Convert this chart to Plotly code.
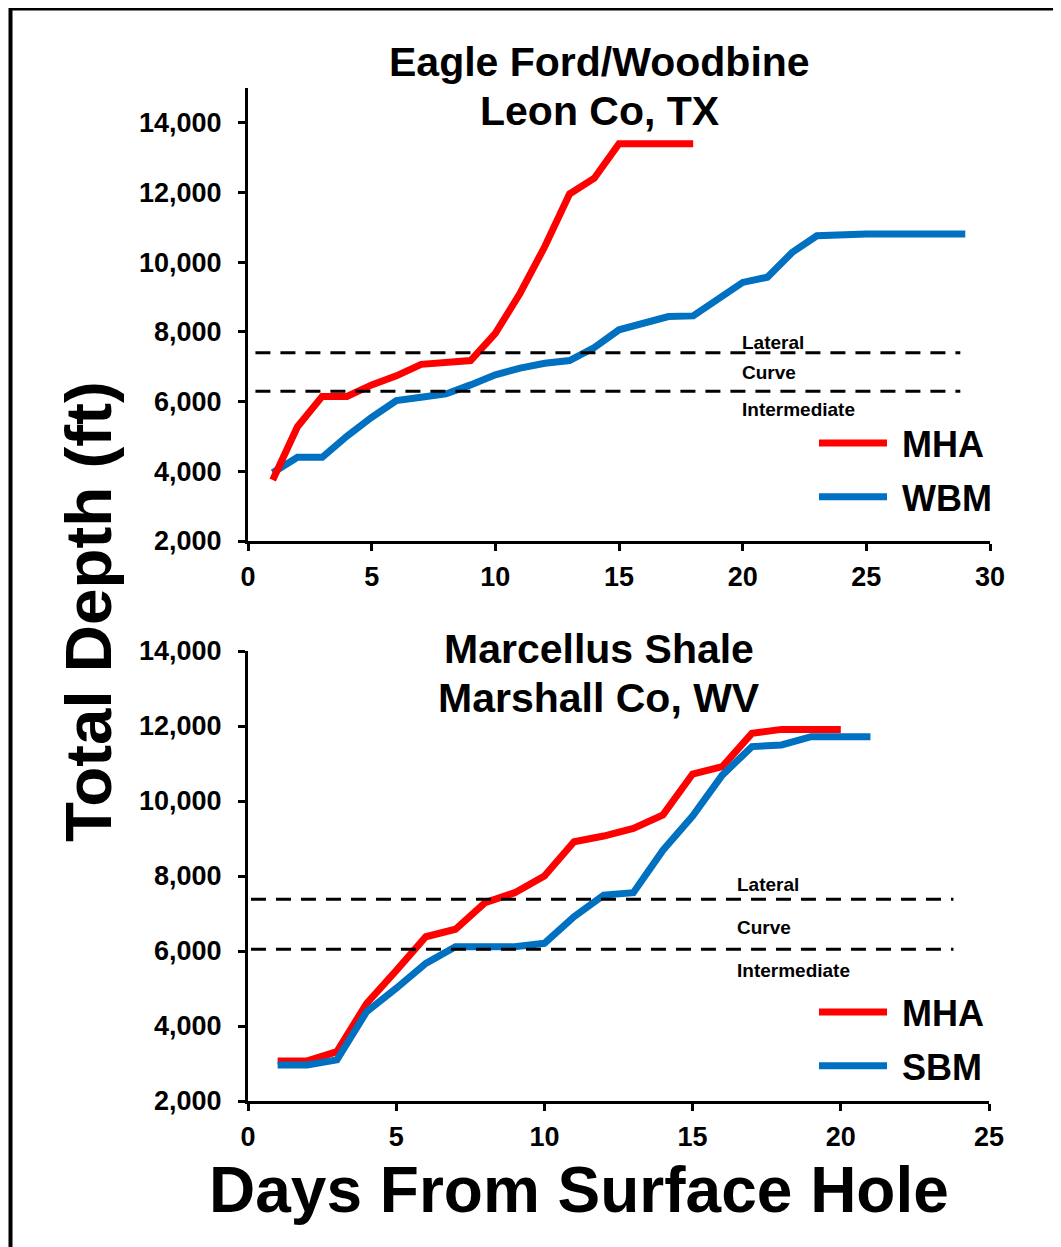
import plotly.graph_objects as go

# ---------------- data ----------------
top_mha_days = list(range(1, 19))
top_mha = [3750, 5280, 6150, 6150, 6480, 6740, 7070, 7120, 7180, 7960, 9110,
           10450, 11960, 12410, 13400, 13400, 13400, 13400]
top_wbm_days = list(range(1, 30))
top_wbm = [3960, 4400, 4400, 5010, 5550, 6030, 6125, 6220, 6480, 6770, 6960,
           7100, 7180, 7550, 8060, 8250, 8440, 8460, 8970, 9420, 9570, 10280,
           10760, 10810, 10810, 10810, 10810, 10810, 10810]
bot_mha_days = list(range(1, 21))
bot_mha = [3070, 3070, 3315, 4600, 5475, 6380, 6580, 7290, 7555, 8000, 8915,
           9065, 9270, 9630, 10720, 10915, 11805, 11910, 11910, 11910]
bot_sbm_days = list(range(1, 22))
bot_sbm = [2960, 2960, 3095, 4380, 5005, 5670, 6115, 6115, 6115, 6205, 6915,
           7490, 7555, 8690, 9600, 10690, 11450, 11495, 11715, 11715, 11715]

top_levels = {"Lateral": 7400, "Intermediate": 6300}
top_level_span = [0.3, 28.8]
bot_levels = {"Lateral": 7380, "Intermediate": 6050}
bot_level_span = [0.1, 23.8]

y_ticks = [2000, 4000, 6000, 8000, 10000, 12000, 14000]
top_title = ["Eagle Ford/Woodbine", "Leon Co, TX"]
bot_title = ["Marcellus Shale", "Marshall Co, WV"]

# ---------------- styling ----------------
W, H = 1061, 1247
OFF = 8  # page body margin
FONT = "Liberation Sans, Arial, sans-serif"
RED = "#FF0000"
BLUE = "#0070C0"
NB = "\u00a0"


def px(x):
    return (x - OFF) / W


def py(y):
    return 1 - (y - OFF) / H


fig = go.Figure()

# top chart: blue under red
fig.add_trace(go.Scatter(x=top_wbm_days, y=top_wbm, mode="lines", name=NB + "WBM",
                         line=dict(color=BLUE, width=7), xaxis="x", yaxis="y",
                         legend="legend", legendrank=2, legendgroup="a2"))
fig.add_trace(go.Scatter(x=top_mha_days, y=top_mha, mode="lines", name=NB + "MHA",
                         line=dict(color=RED, width=7), xaxis="x", yaxis="y",
                         legend="legend", legendrank=1, legendgroup="a1"))
# bottom chart: red under blue
fig.add_trace(go.Scatter(x=bot_mha_days, y=bot_mha, mode="lines", name=NB + "MHA",
                         line=dict(color=RED, width=7), xaxis="x2", yaxis="y2",
                         legend="legend2", legendrank=1, legendgroup="b1"))
fig.add_trace(go.Scatter(x=bot_sbm_days, y=bot_sbm, mode="lines", name=NB + "SBM",
                         line=dict(color=BLUE, width=7), xaxis="x2", yaxis="y2",
                         legend="legend2", legendrank=2, legendgroup="b2"))

for name, val in top_levels.items():
    fig.add_trace(go.Scatter(x=top_level_span, y=[val, val], mode="lines",
                             line=dict(color="black", width=3, dash="15px,10px"),
                             xaxis="x", yaxis="y", showlegend=False, hoverinfo="skip"))
for name, val in bot_levels.items():
    fig.add_trace(go.Scatter(x=bot_level_span, y=[val, val], mode="lines",
                             line=dict(color="black", width=3, dash="15px,10px"),
                             xaxis="x2", yaxis="y2", showlegend=False, hoverinfo="skip"))

axis_common = dict(showline=True, linecolor="black", linewidth=3, ticks="outside",
                   ticklen=7, tickwidth=3, tickcolor="black", showgrid=False,
                   zeroline=False, mirror=False, automargin=False,
                   tickfont=dict(family=FONT, size=27, color="black", weight="bold"))

legend_common = dict(xanchor="left", yanchor="top", bgcolor="rgba(0,0,0,0)",
                     itemwidth=68, traceorder="grouped", tracegroupgap=4,
                     font=dict(family=FONT, size=36, color="black", weight="bold"))

fig.update_layout(
    template="none",
    width=W, height=H,
    margin=dict(l=0, r=0, t=0, b=0, pad=0, autoexpand=False),
    paper_bgcolor="white", plot_bgcolor="white",
    xaxis=dict(domain=[px(248), px(990)], range=[0, 30], tickvals=[0, 5, 10, 15, 20, 25, 30],
               anchor="y", ticklabelstandoff=3, **axis_common),
    yaxis=dict(domain=[py(541), py(88)], range=[2000, 15000], tickvals=y_ticks,
               tickformat=",", anchor="x", ticklabelstandoff=11, **axis_common),
    xaxis2=dict(domain=[px(248), px(989)], range=[0, 25], tickvals=[0, 5, 10, 15, 20, 25],
                anchor="y2", ticklabelstandoff=3, **axis_common),
    yaxis2=dict(domain=[py(1101), py(651)], range=[2000, 14000], tickvals=y_ticks,
                tickformat=",", anchor="x2", ticklabelstandoff=11, **axis_common),
    legend=dict(x=px(814), y=py(413), **legend_common),
    legend2=dict(x=px(814), y=py(982), **legend_common),
    showlegend=True,
)

annotations = []
title_font = dict(family=FONT, size=41, color="black")
for txt, yy in [(top_title[0], 62), (top_title[1], 111),
                (bot_title[0], 649), (bot_title[1], 698)]:
    annotations.append(dict(text="<b>" + txt + "</b>", x=px(599), y=py(yy), xref="paper",
                            yref="paper", xanchor="center", yanchor="middle",
                            showarrow=False, font=title_font))

lab_font = dict(family=FONT, size=19, color="black")
for txt, yy in [("Lateral", 342), ("Curve", 372), ("Intermediate", 410)]:
    annotations.append(dict(text="<b>" + txt + "</b>", x=px(740), y=py(yy), xref="paper",
                            yref="paper", xanchor="left", yanchor="middle",
                            showarrow=False, font=lab_font))
for txt, yy in [("Lateral", 884), ("Curve", 927), ("Intermediate", 970)]:
    annotations.append(dict(text="<b>" + txt + "</b>", x=px(735), y=py(yy), xref="paper",
                            yref="paper", xanchor="left", yanchor="middle",
                            showarrow=False, font=lab_font))

annotations.append(dict(text="<b>Total Depth (ft)</b>", x=px(88), y=py(612), xref="paper",
                        yref="paper", xanchor="center", yanchor="middle", textangle=-90,
                        showarrow=False, font=dict(family=FONT, size=65.5, color="black")))
annotations.append(dict(text="<b>Days From Surface Hole</b>", x=px(579), y=py(1190),
                        xref="paper", yref="paper", xanchor="center", yanchor="middle",
                        showarrow=False, font=dict(family=FONT, size=64, color="black")))
fig.update_layout(annotations=annotations)

fig.add_shape(type="rect", xref="paper", yref="paper", x0=px(10.5), x1=px(1080),
              y0=py(1270), y1=py(8.5), line=dict(color="black", width=4),
              fillcolor="rgba(0,0,0,0)", layer="above")

fig.write_html("out.html")
